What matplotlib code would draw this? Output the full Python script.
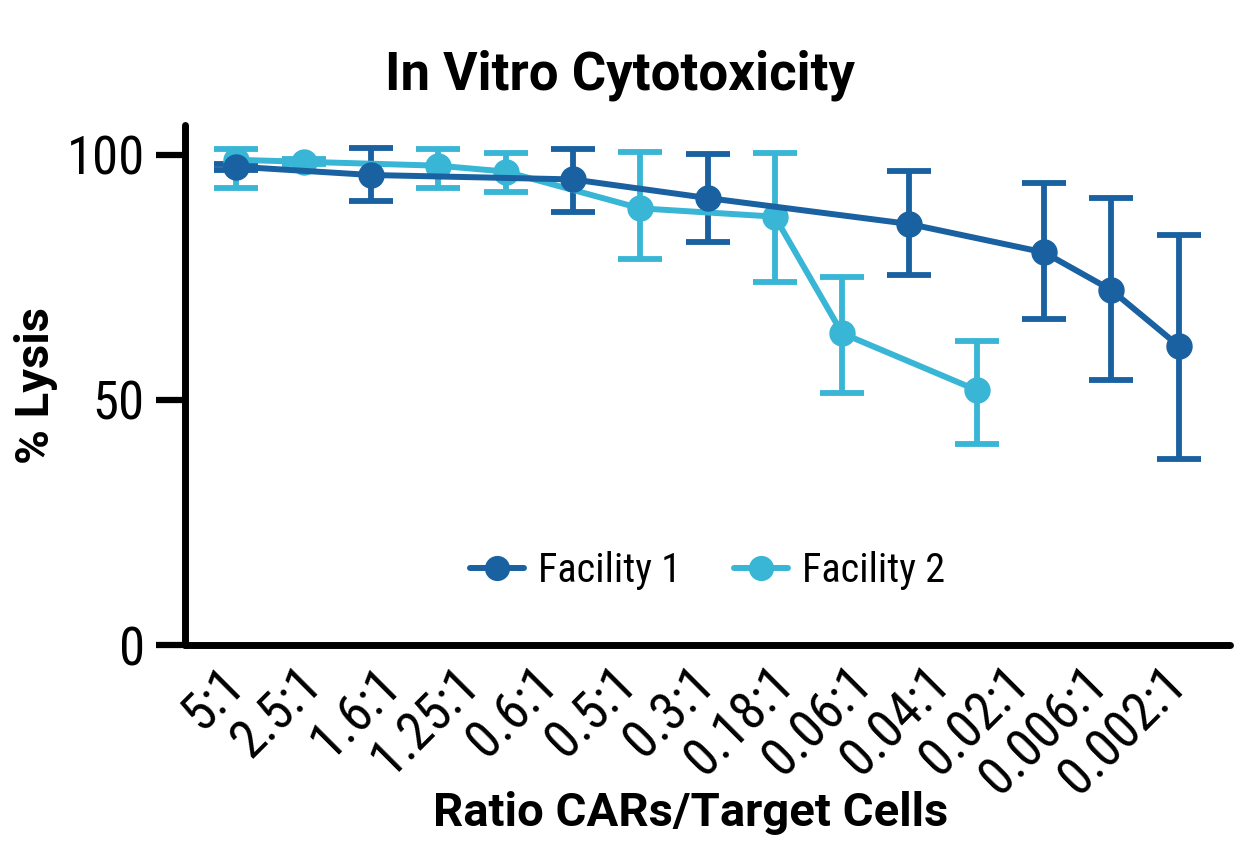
import numpy as np
import matplotlib
matplotlib.use('Agg')
import matplotlib.pyplot as plt

FONT_SIZE = 34
F1_COLOR = '#1961a0'
F2_COLOR = '#39b5d5'

ratio_labels = ['5:1', '2.5:1', '1.6:1', '1.25:1', '0.6:1', '0.5:1', '0.3:1',
                '0.18:1', '0.06:1', '0.04:1', '0.02:1', '0.006:1', '0.002:1']

# facility 1
f1_x = [0, 2, 5, 7, 10, 12, 13, 14]
f1_mean = [97.6, 95.9, 95.0, 91.2, 85.9, 80.1, 72.4, 61.0]
f1_low = [97.0, 90.5, 88.3, 82.2, 75.5, 66.5, 54.1, 38.0]
f1_high = [98.2, 101.5, 101.2, 100.2, 96.8, 94.3, 91.3, 83.7]

# facility 2
f2_x = [0, 1, 3, 4, 6, 8, 9, 11]
f2_mean = [99.0, 98.6, 97.8, 96.6, 89.1, 87.4, 63.6, 52.0]
f2_low = [93.3, 98.1, 93.3, 92.5, 78.7, 74.1, 51.5, 41.0]
f2_high = [101.2, 99.1, 101.2, 100.3, 100.5, 100.4, 75.0, 62.0]

COND = ['Roboto Condensed', 'Roboto', 'DejaVu Sans']
BOLD = ['Roboto', 'DejaVu Sans']


def draw(ax, x, mean, low, high, color, label):
    mean = np.array(mean)
    yerr = [mean - np.array(low), np.array(high) - mean]
    ax.errorbar(x, mean, yerr=yerr, fmt='none', ecolor=color, elinewidth=4.2,
                capsize=15.5, capthick=4.2, zorder=2)
    ax.plot(x, mean, color=color, lw=4.3, marker='o', markersize=18, label=label,
            solid_capstyle='round', zorder=3)


def main():
    fig = plt.figure(figsize=(12.41, 8.46), dpi=100)
    ax = fig.add_axes([185 / 1241, (846 - 645) / 846, (1230 - 185) / 1241, (645 - 125) / 846])
    draw(ax, f2_x, f2_mean, f2_low, f2_high, F2_COLOR, 'Facility 2')
    draw(ax, f1_x, f1_mean, f1_low, f1_high, F1_COLOR, 'Facility 1')

    ax.set_xlim(-0.76, 14.76)
    ax.set_ylim(0, 106.1)
    ax.set_yticks([0, 50, 100])
    ax.set_yticklabels(['0', '50', '100'], fontsize=38, family=COND)
    ax.set_xticks(np.linspace(0, 14, len(ratio_labels)))
    ax.set_xticklabels(ratio_labels, fontsize=38, family=COND, rotation=45,
                       ha='right', va='center', rotation_mode='anchor')
    ax.tick_params(axis='x', length=0, pad=22)
    ax.tick_params(axis='y', length=21, width=4.5, pad=8)
    for t in ax.yaxis.get_ticklines():
        t.set_solid_capstyle('round')
    for s in ['top', 'right']:
        ax.spines[s].set_visible(False)
    for s in ['left', 'bottom']:
        ax.spines[s].set_linewidth(5)
        ax.spines[s].set_capstyle('round')

    fig.text(620 / 1241, 1 - 75 / 846, 'In Vitro Cytotoxicity', fontsize=38, fontweight='bold',
             family=BOLD, ha='center', va='center')
    ax.set_ylabel('% Lysis', fontsize=FONT_SIZE, fontweight='bold', family=BOLD, labelpad=6)
    fig.text(691 / 1241, 1 - 813 / 846, 'Ratio CARs/Target Cells', fontsize=FONT_SIZE,
             fontweight='bold', family=BOLD, ha='center', va='center')

    h, l = ax.get_legend_handles_labels()
    ax.legend(h[::-1], l[::-1], loc='center', bbox_to_anchor=(0.50, 0.144), ncol=2,
              frameon=False, prop={'family': COND, 'size': 29}, handlelength=1.35,
              handletextpad=0.35, columnspacing=1.3, markerscale=0.95)

    plt.savefig('out.png', dpi=100)


if __name__ == '__main__':
    main()
